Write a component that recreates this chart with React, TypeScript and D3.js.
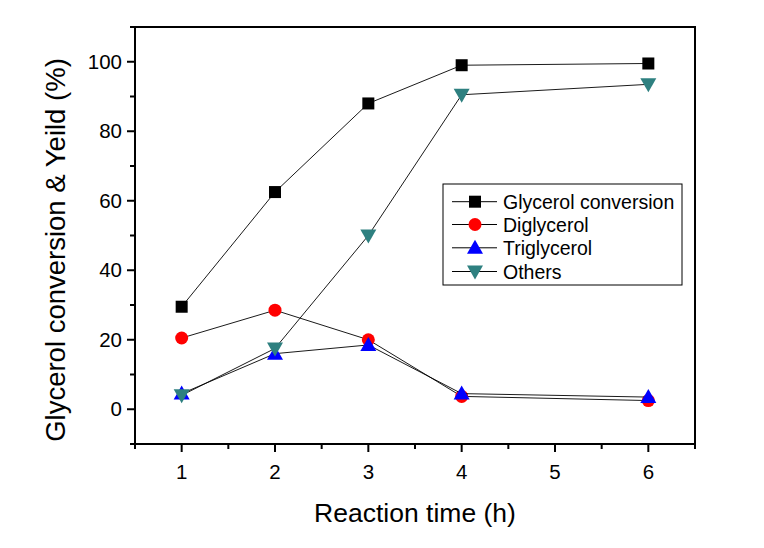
import React from "react";
import * as d3 from "d3";

const times = [1, 2, 3, 4, 6];
const glycerolConversion = [29.5, 62.5, 88, 99, 99.5];
const diglycerol = [20.5, 28.5, 20, 3.7, 2.5];
const triglycerol = [4.5, 16, 18.5, 4.5, 3.5];
const others = [4, 17.5, 50, 90.5, 93.5];
const seriesNames = ["Glycerol conversion", "Diglycerol", "Triglycerol", "Others"];
const xTicks = [1, 2, 3, 4, 5, 6];
const yTicks = [0, 20, 40, 60, 80, 100];

const W = 764, H = 548;
const L = 135, R = 695, T = 27, B = 444;
const FONT = "'Liberation Sans', Arial, sans-serif";

type Kind = "square" | "circle" | "up" | "down";
const series = [
  { name: seriesNames[0], values: glycerolConversion, color: "#000000", kind: "square" as Kind },
  { name: seriesNames[1], values: diglycerol, color: "#ff0000", kind: "circle" as Kind },
  { name: seriesNames[2], values: triglycerol, color: "#0000ff", kind: "up" as Kind },
  { name: seriesNames[3], values: others, color: "#2e8080", kind: "down" as Kind },
];

function Marker({ kind, x, y, color }: { kind: Kind; x: number; y: number; color: string }) {
  if (kind === "square") return <rect x={x - 6} y={y - 6} width={12} height={12} fill={color} />;
  if (kind === "circle") return <circle cx={x} cy={y} r={6.5} fill={color} />;
  if (kind === "up")
    return <path d={`M${x},${y - 8} L${x + 8},${y + 6} L${x - 8},${y + 6} Z`} fill={color} />;
  return <path d={`M${x},${y + 8} L${x + 8},${y - 6} L${x - 8},${y - 6} Z`} fill={color} />;
}

export default function App() {
  const x = d3.scaleLinear().domain([0.5, 6.5]).range([L, R]);
  const y = d3.scaleLinear().domain([-10, 110]).range([B, T]);
  const line = d3
    .line<[number, number]>()
    .x((d) => x(d[0]))
    .y((d) => y(d[1]));
  const xMinor = d3.range(0.5, 6.51, 0.5).filter((v) => !xTicks.includes(v));
  const yMinor = d3.range(-10, 110.1, 10).filter((v) => !yTicks.includes(v));

  const legX = 443, legY = 184, legW = 239, legH = 101;
  const rowY = [201.7, 224.5, 247.8, 271.5];

  return (
    <svg width={W} height={H} style={{ position: "absolute", left: 0, top: 0, background: "#fff" }}>
      <rect x={0} y={0} width={W} height={H} fill="#fff" />
      {series.map((s) => (
        <g key={s.name}>
          <path
            d={line(times.map((t, i) => [t, s.values[i]] as [number, number])) || ""}
            fill="none"
            stroke="#000"
            strokeWidth={0.9}
          />
          {times.map((t, i) => (
            <Marker key={i} kind={s.kind} x={x(t)} y={y(s.values[i])} color={s.color} />
          ))}
        </g>
      ))}
      <rect x={L} y={T} width={R - L} height={B - T} fill="none" stroke="#000" strokeWidth={2} />
      {xTicks.map((t) => (
        <g key={"xt" + t}>
          <line x1={x(t)} x2={x(t)} y1={B} y2={B + 8} stroke="#000" strokeWidth={2} />
          <text x={x(t)} y={B + 35} textAnchor="middle" fontFamily={FONT} fontSize={20.5}>
            {t}
          </text>
        </g>
      ))}
      {xMinor.map((t) => (
        <line key={"xm" + t} x1={x(t)} x2={x(t)} y1={B} y2={B + 5} stroke="#000" strokeWidth={2} />
      ))}
      {yTicks.map((t) => (
        <g key={"yt" + t}>
          <line x1={L} x2={L - 8} y1={y(t)} y2={y(t)} stroke="#000" strokeWidth={2} />
          <text x={L - 13} y={y(t) + 7} textAnchor="end" fontFamily={FONT} fontSize={20.5}>
            {t}
          </text>
        </g>
      ))}
      {yMinor.map((t) => (
        <line key={"ym" + t} x1={L} x2={L - 5} y1={y(t)} y2={y(t)} stroke="#000" strokeWidth={2} />
      ))}
      <text x={(L + R) / 2} y={522} textAnchor="middle" fontFamily={FONT} fontSize={26.5}>
        Reaction time (h)
      </text>
      <text
        transform={`translate(65,250) rotate(-90)`}
        textAnchor="middle"
        fontFamily={FONT}
        fontSize={27.5}
      >
        Glycerol conversion &amp; Yeild (%)
      </text>
      <rect x={legX} y={legY} width={legW} height={legH} fill="#fff" stroke="#000" strokeWidth={1} />
      {series.map((s, i) => (
        <g key={"lg" + s.name}>
          <line x1={452} x2={497} y1={rowY[i]} y2={rowY[i]} stroke="#000" strokeWidth={1} />
          <Marker kind={s.kind} x={475} y={rowY[i]} color={s.color} />
          <text x={503} y={rowY[i] + 7} fontFamily={FONT} fontSize={19.5}>
            {s.name}
          </text>
        </g>
      ))}
    </svg>
  );
}
